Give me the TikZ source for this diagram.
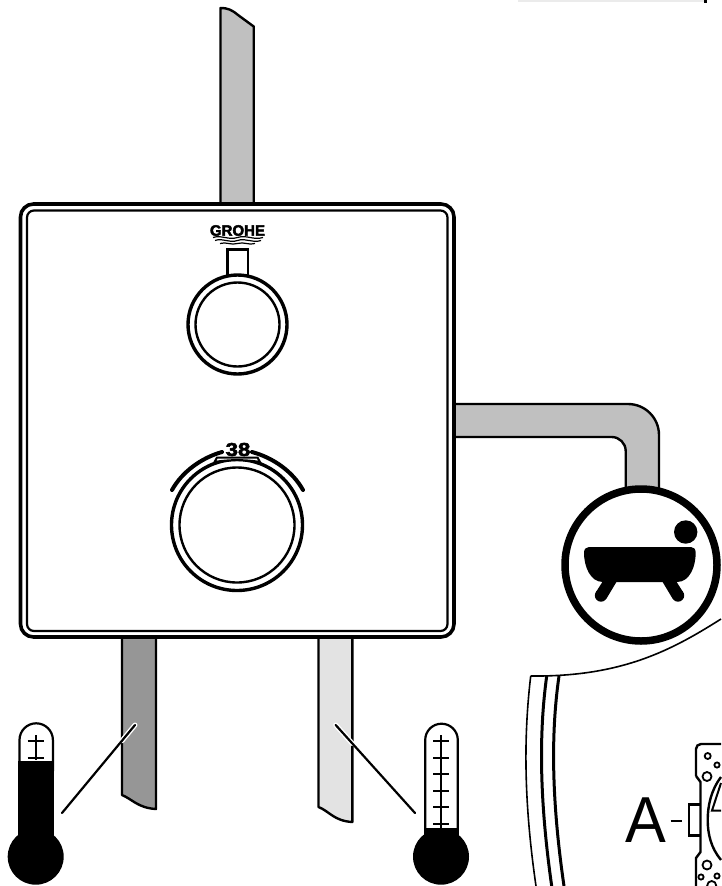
\documentclass[tikz,border=0pt]{standalone}
\usepackage{graphicx}
\usepackage{fontspec}
\setmainfont{Liberation Sans}
\tikzset{
  pipe/.style={draw=black,line width=2.4pt,line join=round},
  ink/.style={draw=black,line width=2.4pt},
  scaleline/.style={draw=black,line width=2pt},
  halo/.style={draw=white,line width=5pt,line cap=round},
  leader/.style={draw=black,line width=2.2pt,line cap=round},
  hole/.style={draw=black,line width=1.8pt,fill=white},
  wave/.style={draw=black,line width=1.2pt},
  tubeline/.style={draw=black,line width=2.2pt}
}
\definecolor{pipemid}{HTML}{C0C0C0}
\definecolor{pipehot}{HTML}{969696}
\definecolor{pipecold}{HTML}{E3E3E3}
\begin{document}
\begin{tikzpicture}[x=1pt,y=-1pt]
\useasboundingbox (0,0) rectangle (721,886);
\fill[white] (0,0) rectangle (721,886);
% top right remnant
\fill[black!8] (518,0) rectangle (705,1.5);
\fill[black] (704,0) rectangle (706.5,3);
% pipes
\filldraw[pipe,fill=pipemid] (220.5,210) -- (220.5,8) .. controls (228,8) and (232,10) .. (238,15) -- (253.7,26.5) -- (253.7,210);
\filldraw[pipe,fill=pipehot] (122,630) -- (122,795) .. controls (132,799) and (138,808) .. (156,809) -- (156,630);
\filldraw[pipe,fill=pipecold] (318.5,630) -- (318.5,807) .. controls (329,811) and (334,821) .. (352.3,822) -- (352.3,630);
\filldraw[pipe,fill=pipemid] (450,404) -- (628,404) arc[start angle=-90,end angle=0,radius=31] -- (659,495) -- (625.7,495) -- (625.7,451) arc[start angle=0,end angle=-90,radius=14] -- (450,437) -- cycle;
% panel
\filldraw[draw=black,line width=3.6pt,fill=white,rounded corners=13pt] (20.5,204) rectangle (454,637);
\draw[black,line width=2.2pt,rounded corners=7pt] (27,210.5) rectangle (447.5,631);
% upper knob
\draw[ink,line width=2.8pt] (227.5,275) -- (227.5,249.5) -- (248,249.5) -- (248,275);
\filldraw[draw=black,line width=3.4pt,fill=white] (237.5,324.5) circle[radius=49.5];
\draw[ink] (237.5,324.5) circle[radius=42];
% logo
\node[inner sep=0pt,text=black] (logo) at (237.5,230.5) {\fontsize{15}{15}\selectfont\bfseries\addfontfeature{FakeBold=3}GROHE};
\draw[wave] (213,237.5) .. controls (222,234.5) and (228,240.5) .. (237.5,237.5) .. controls (247,234.5) and (253,240.5) .. (263,237.5);
\draw[wave] (215,240.5) .. controls (223,237.5) and (229,243.5) .. (237.5,240.5) .. controls (246,237.5) and (252,243.5) .. (261,240.5);
\draw[wave] (220,243.5) .. controls (226,241.5) and (231,245.5) .. (237.5,243.5) .. controls (244,241.5) and (249,245.5) .. (255,243.5);
% lower knob
\filldraw[draw=black,line width=3.4pt,fill=white] (237,525) circle[radius=65.5];
\draw[ink] (237,525) circle[radius=57.5];
\draw[black,line width=4pt,line cap=round] (172,490) .. controls (182,472) and (201,458) .. (222,452);
\draw[black,line width=4pt,line cap=round] (303,490) .. controls (293,472) and (274,458) .. (252,452);
\filldraw[draw=black,line width=2pt,fill=white] (214.5,462) .. controls (228,459.5) and (246,459.5) .. (260,462) -- (257.5,457.5) -- (217,457.5) -- cycle;
\node[inner sep=0pt,text=black] (temp) at (238,449.5) {\scalebox{1.2}[1]{\fontsize{18.5}{18.5}\selectfont\bfseries\addfontfeature{FakeBold=3}38}};
% bath symbol
\filldraw[draw=black,line width=7.5pt,fill=white] (641,565) circle[radius=76];
\fill[black] (685.7,532) circle[radius=11.7];
\fill[black] (589,547) -- (691,547) .. controls (694,547) and (695.7,549) .. (695.7,553) .. controls (695.7,566) and (690,582) .. (677,582) -- (603,582) .. controls (590,582) and (584,566) .. (584,553) .. controls (584,549) and (586,547) .. (589,547) -- cycle;
\fill[black] (603,581) -- (617,581) -- (606.5,598.5) -- (596,592) -- cycle;
\fill[black] (601,595.5) circle[radius=6.2];
\fill[black] (662,581) -- (676,581) -- (683,592) -- (672.5,598.5) -- cycle;
\fill[black] (678,595.5) circle[radius=6.2];
% cut-out curve and wall
\draw[black,line width=1.6pt] (721,619) .. controls (672,650) and (622,677) .. (530.7,676);
\draw[black,line width=1.6pt] (530.7,676) .. controls (525,725) and (522,790) .. (536,886);
\draw[black,line width=3pt] (546.7,676) .. controls (540,725) and (538,790) .. (551.7,886);
\draw[black,line width=3pt] (559,676) .. controls (552,725) and (550,790) .. (564,886);
% detail A
\node[inner sep=0pt,anchor=base,text=black] (letterA) at (645.5,842.7) {\scalebox{.94}[1]{\fontsize{65}{65}\selectfont A}};
\draw[black,line width=2pt] (670.7,820.5) -- (682.3,820.5);
\draw[ink] (700.5,804.5) -- (689,804.5) -- (689,835.5) -- (700.5,835.5);
\draw[ink,rounded corners=5pt] (721,744) -- (696,744) -- (696,776);
\draw[ink] (696,776) -- (700.5,782) -- (700.5,852) -- (696,858) -- (696,886);
\draw[ink] (721,777) .. controls (711,790) and (707.7,806) .. (707.7,820) .. controls (707.7,834) and (711,848) .. (721,860);
\draw[ink,line width=2pt] (721,783) -- (712,810.5) -- (721,810.5);
\draw[hole] (707.7,756) circle[radius=3];
\draw[hole] (717,765) circle[radius=2.6];
\draw[hole] (707,776.5) circle[radius=4.5];
\draw[hole] (707,865) circle[radius=4.5];
\draw[hole] (701,877) circle[radius=2.6];
\draw[hole] (717,876) circle[radius=2.6];
\draw[hole] (711.7,885.5) circle[radius=4.5];
% hot thermometer
\coordinate (hotmark) at (135,725);
\coordinate (hotend) at (62,813);
\draw[tubeline,fill=white] (19.5,770) -- (19.5,740) arc[start angle=180,end angle=360,radius=16.7] -- (52.9,770) -- cycle;
\fill[black] (18.4,760.7) rectangle (54,845);
\fill[black] (35.7,856.7) circle[radius=28];
\draw[scaleline] (36,735) -- (36,760);
\draw[scaleline] (27.5,740.5) -- (44,740.5);
\draw[scaleline] (27.5,757.5) -- (44,757.5);
\draw[halo] (hotmark) -- (122,740.7);
\draw[leader] (hotmark) -- (hotend);
% cold thermometer
\coordinate (coldmark) at (335.7,725);
\coordinate (coldend) at (415,813);
\draw[tubeline,fill=white] (425.2,835) -- (425.2,740) arc[start angle=180,end angle=360,radius=16.3] -- (457.8,835) -- cycle;
\fill[black] (424.1,828) rectangle (458.9,845);
\fill[black] (441,856.7) circle[radius=28];
\draw[scaleline] (441,735) -- (441,828);
\foreach \ty in {740.7,757.5,774,791,807,824}{
  \draw[scaleline] (433,\ty) -- (449,\ty);
}
\draw[halo] (coldmark) -- (352.3,743.5);
\draw[leader] (coldmark) -- (coldend);
\end{tikzpicture}
\end{document}
